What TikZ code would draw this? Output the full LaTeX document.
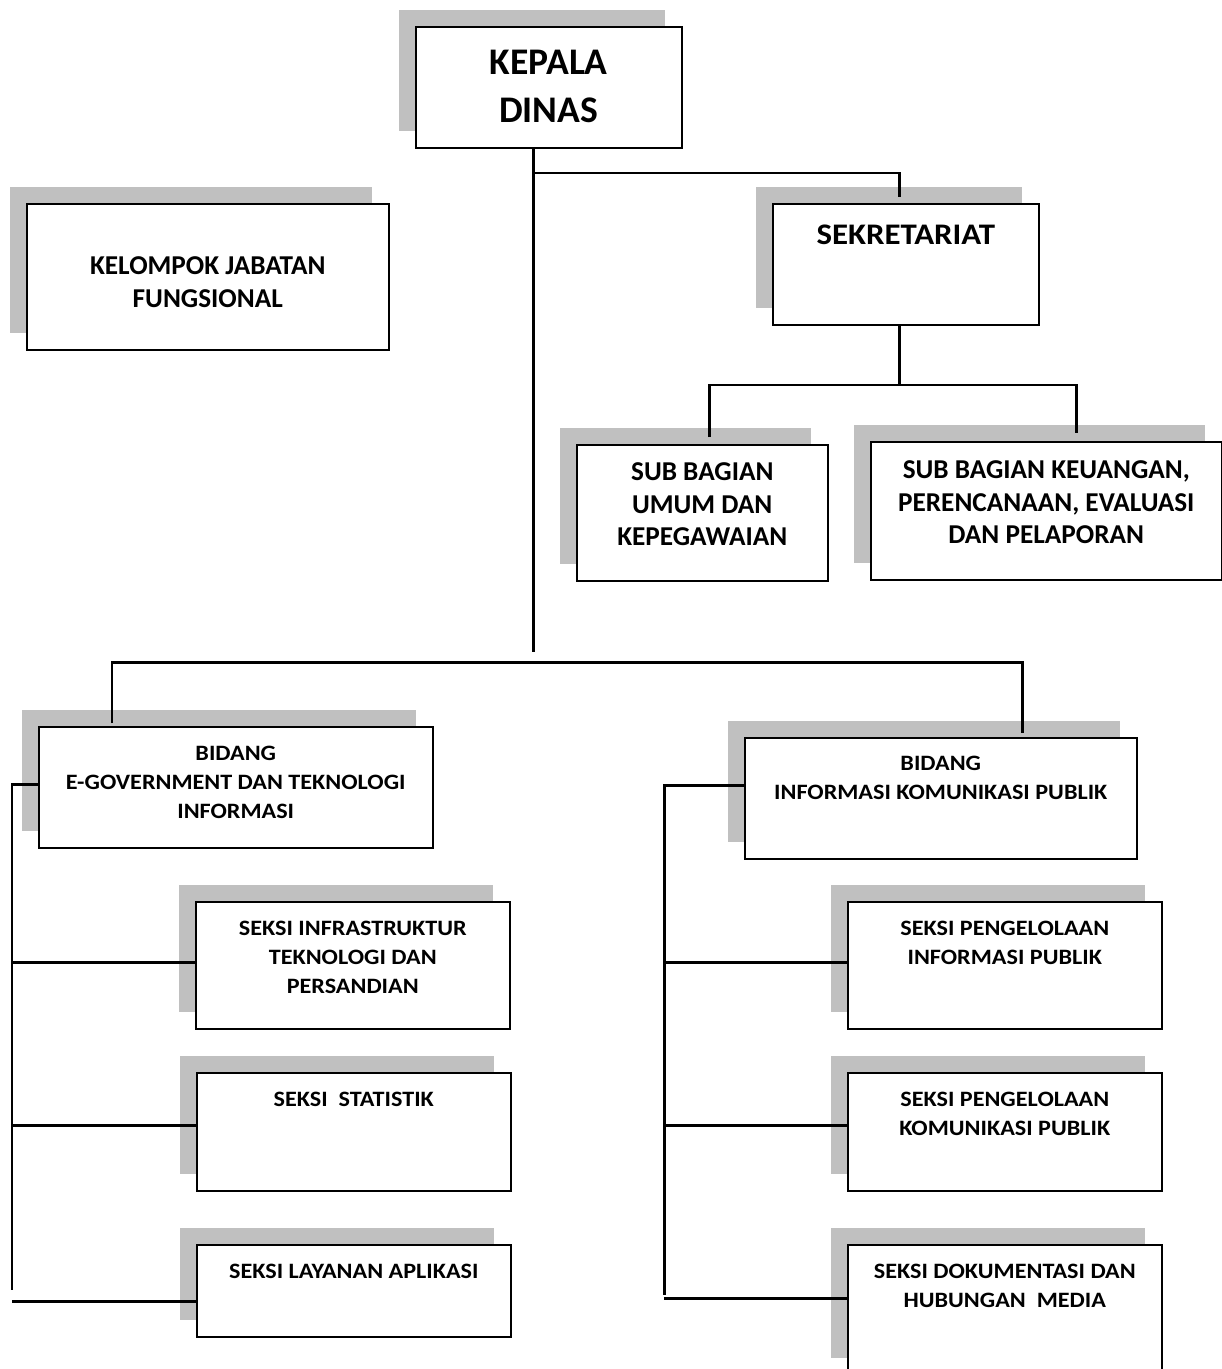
\documentclass[tikz,border=0pt]{standalone}
\usepackage{fontspec}
\setmainfont{Carlito}
\newfontfamily\lebar[FakeStretch=1.10]{Carlito}
\usetikzlibrary{shadows,positioning}
\definecolor{bayangan}{RGB}{192,192,192}

\begin{document}
\begin{tikzpicture}[x=0.02cm,y=-0.02cm,
  kotak/.style={draw,line width=0.9pt,fill=white,anchor=north west,inner sep=0pt,
    drop shadow={shadow xshift=-0.33cm,shadow yshift=0.33cm,opacity=1,fill=bayangan}},
  garis/.style={line width=1.7pt},
  teks/.style={align=center,inner sep=0pt,anchor=north,font=\lebar\bfseries\fontsize{12.5}{16.5}\selectfont},
  tekssedang/.style={teks,font=\bfseries\fontsize{15.5}{18.7}\selectfont},
  tekssekre/.style={teks,font=\lebar\bfseries\fontsize{17}{20}\selectfont},
  teksbesar/.style={teks,font=\bfseries\fontsize{21.4}{27.2}\selectfont}]
  %\draw[help lines,step=100](0,0) grid(1222,1369);
  \useasboundingbox (0,0) rectangle (1222,1369);
  \clip (0,0) rectangle (1222,1369);

  % pimpinan dan sekretariat
  \node[kotak,minimum width=5.32cm,minimum height=2.42cm] (kepala) at (415,26) {};
  \node[teksbesar,below=0.48cm of kepala.north] (kepalaT) {KEPALA\\DINAS};
  \node[kotak,minimum width=7.24cm,minimum height=2.92cm] (fungsional) at (26,203) {};
  \node[tekssedang,below=1.06cm of fungsional.north] (fungsionalT) {KELOMPOK JABATAN\\FUNGSIONAL};
  \node[kotak,minimum width=5.32cm,minimum height=2.42cm] (sekre) at (772,203) {};
  \node[tekssekre,below=0.44cm of sekre.north] (sekreT) {SEKRETARIAT};
  \node[kotak,minimum width=5.02cm,minimum height=2.72cm] (umum) at (576,444) {};
  \node[tekssedang,below=0.36cm of umum.north] (umumT) {SUB BAGIAN\\UMUM DAN\\KEPEGAWAIAN};
  \node[kotak,minimum width=7.02cm,minimum height=2.76cm] (keu) at (870,441) {};
  \node[tekssedang,below=0.38cm of keu.north] (keuT) {SUB BAGIAN KEUANGAN,\\PERENCANAAN, EVALUASI\\DAN PELAPORAN};

  % bidang
  \node[kotak,minimum width=7.88cm,minimum height=2.42cm] (egov) at (38,726) {};
  \node[teks,below=0.40cm of egov.north] (egovT) {BIDANG\\E-GOVERNMENT DAN TEKNOLOGI\\INFORMASI};
  \node[kotak,minimum width=7.84cm,minimum height=2.42cm] (ikp) at (744,737) {};
  \node[teks,below=0.38cm of ikp.north] (ikpT) {BIDANG\\INFORMASI KOMUNIKASI PUBLIK};

  % seksi
  \node[kotak,minimum width=6.28cm,minimum height=2.54cm] (infra) at (195,901) {};
  \node[teks,below=0.40cm of infra.north] (infraT) {SEKSI INFRASTRUKTUR\\TEKNOLOGI DAN\\PERSANDIAN};
  \node[kotak,minimum width=6.28cm,minimum height=2.36cm] (statistik) at (196,1072) {};
  \node[teks,below=0.40cm of statistik.north] (statistikT) {SEKSI\ \ STATISTIK};
  \node[kotak,minimum width=6.28cm,minimum height=1.84cm] (aplikasi) at (196,1244) {};
  \node[teks,below=0.40cm of aplikasi.north] (aplikasiT) {SEKSI LAYANAN APLIKASI};
  \node[kotak,minimum width=6.28cm,minimum height=2.54cm] (pinfo) at (847,901) {};
  \node[teks,below=0.40cm of pinfo.north] (pinfoT) {SEKSI PENGELOLAAN\\INFORMASI PUBLIK};
  \node[kotak,minimum width=6.28cm,minimum height=2.36cm] (pkom) at (847,1072) {};
  \node[teks,below=0.40cm of pkom.north] (pkomT) {SEKSI PENGELOLAAN\\KOMUNIKASI PUBLIK};
  \node[kotak,minimum width=6.28cm,minimum height=2.60cm] (media) at (847,1244) {};
  \node[teks,below=0.40cm of media.north] (mediaT) {SEKSI DOKUMENTASI DAN\\HUBUNGAN\ \ MEDIA};

  % garis atas
  \coordinate (batang) at (533,652);
  \coordinate (cabang1) at (533,173);
  \coordinate (sekreAtas) at (899,197);
  \coordinate (cabang2) at (899,385);
  \coordinate (umumAtas) at (709,437);
  \coordinate (keuAtas) at (1076,433);
  \coordinate (cabang3) at (533,662);
  \coordinate (egovAtas) at (112,723);
  \coordinate (ikpAtas) at (1022,733);
  \draw[garis] (kepala.south -| batang) -- (batang);
  \draw[garis] (cabang1) -| (sekreAtas);
  \draw[garis] (sekre.south -| cabang2) -- (cabang2);
  \draw[garis] (umumAtas) -- (umumAtas |- cabang2) -- (keuAtas |- cabang2) -- (keuAtas);
  \draw[garis] (egovAtas) -- (egovAtas |- cabang3) -- (ikpAtas |- cabang3) -- (ikpAtas);

  % garis kiri
  \coordinate (kiri1) at (12,784);
  \coordinate (kiri2) at (12,962);
  \coordinate (kiri3) at (12,1125);
  \coordinate (kiri4) at (12,1301);
  \coordinate (kiriUjung) at (12,1290);
  \draw[garis] (kiri1 -| egov.west) -- (kiri1) -- (kiriUjung);
  \draw[garis] (kiri2) -- (kiri2 -| infra.west);
  \draw[garis] (kiri3) -- (kiri3 -| statistik.west);
  \draw[garis] (kiri4) -- (kiri4 -| aplikasi.west);

  % garis kanan
  \coordinate (kanan1) at (664,785);
  \coordinate (kanan2) at (664,962);
  \coordinate (kanan3) at (664,1125);
  \coordinate (kanan4) at (664,1298);
  \coordinate (kananUjung) at (664,1295);
  \draw[garis] (kanan1 -| ikp.west) -- (kanan1) -- (kananUjung);
  \draw[garis] (kanan2) -- (kanan2 -| pinfo.west);
  \draw[garis] (kanan3) -- (kanan3 -| pkom.west);
  \draw[garis] (kanan4) -- (kanan4 -| media.west);
\end{tikzpicture}
\end{document}
